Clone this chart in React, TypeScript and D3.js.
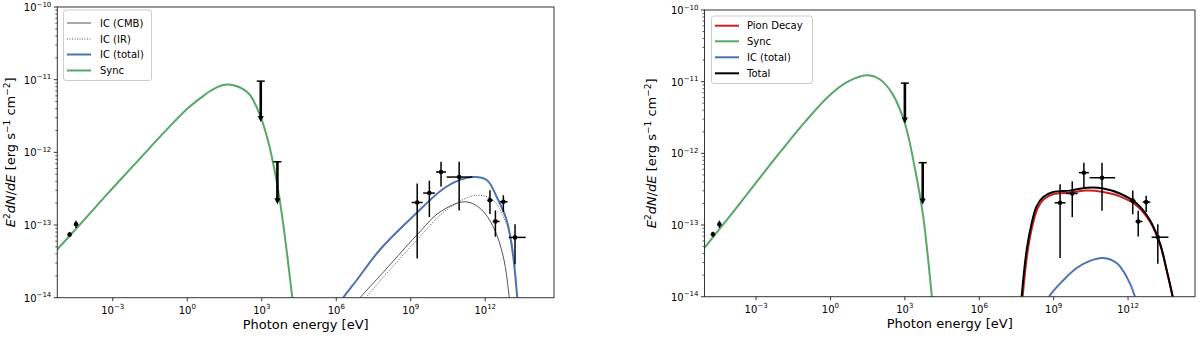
import * as d3 from 'd3';

// all values are log10 exponents: energy in eV, flux in erg s^-1 cm^-2
const xTickExps = [-3, 0, 3, 6, 9, 12];
const yTickExps = [-14, -13, -12, -11, -10];

// radio points
const radioLogE = [-4.74, -4.48];
const radioLogF = [-13.13, -12.99];
const radioErr = [0.035, 0.05];

// X-ray upper limits
const ulLogELeft = [2.96, 3.63];
const ulLogERight = [3.0, 3.72];
const ulTopLogF = [-11.02, -12.13];
const ulTipLogF = [-11.57, -12.7];

// gamma-ray points
const gammaLogE = [9.26, 9.75, 10.22, 10.95, 12.19, 12.41, 12.73, 13.2];
const gammaLogF = [-12.69, -12.56, -12.27, -12.34, -12.66, -12.95, -12.68, -13.17];
const gammaLoF = [-13.46, -12.89, -12.47, -12.8, -12.85, -13.16, -12.82, -13.54];
const gammaHiF = [-12.43, -12.39, -12.13, -12.13, -12.52, -12.8, -12.59, -12.99];
const gammaLoE = [9.04, 9.5, 10.02, 10.45, 12.08, 12.3, 12.59, 12.95];
const gammaHiE = [9.48, 9.97, 10.42, 11.48, 12.3, 12.58, 12.9, 13.63];

// leptonic model (left)
const syncLeftE = [-5.3, -4, -3, -2, -1, 0, 0.7, 1, 1.5, 2, 2.5, 2.93, 3.26, 3.6, 3.87, 4.23, 4.3];
const syncLeftF = [-13.36, -12.87, -12.49, -12.12, -11.75, -11.4, -11.21, -11.14, -11.07, -11.09, -11.2, -11.49, -11.85, -12.4, -13.0, -14.0, -14.2];
const icTotalE = [6.2, 6.28, 6.82, 7.76, 9.1, 10.45, 11.45, 12.06, 12.46, 12.86, 13.13, 13.29, 13.33];
const icTotalF = [-14.05, -14.0, -13.76, -13.34, -12.88, -12.47, -12.34, -12.38, -12.61, -12.93, -13.44, -13.99, -14.1];
const icCmbE = [6.9, 6.96, 7.76, 9.24, 10.18, 11.18, 11.79, 12.32, 12.73, 12.97, 13.0];
const icCmbF = [-14.03, -14.0, -13.7, -13.14, -12.82, -12.68, -12.77, -13.02, -13.44, -14.0, -14.1];
const icIrE = [7.15, 7.2, 8.2, 9.24, 10.45, 11.65, 12.32, 12.73, 13.06, 13.29, 13.32];
const icIrF = [-14.03, -14.0, -13.6, -13.21, -12.79, -12.59, -12.66, -12.89, -13.21, -14.0, -14.1];

// hadronic model (right)
const syncRightE = [-5.2, -4, -3, -2, -1, 0, 0.7, 1.45, 2, 2.5, 3.0, 3.4, 3.74, 4.09, 4.15];
const syncRightF = [-13.37, -12.85, -12.41, -11.97, -11.55, -11.18, -11.0, -10.91, -10.97, -11.17, -11.58, -12.2, -12.88, -14.0, -14.2];
const totalE = [7.65, 7.71, 7.91, 8.11, 8.31, 8.58, 8.98, 9.66, 10.33, 11.0, 11.67, 12.35, 12.88, 13.29, 13.56, 13.8, 13.85];
const totalF = [-14.3, -14.0, -13.35, -12.98, -12.74, -12.61, -12.54, -12.52, -12.48, -12.49, -12.56, -12.7, -12.93, -13.26, -13.63, -14.0, -14.1];
const pionE = [7.69, 7.75, 7.95, 8.15, 8.35, 8.6, 8.98, 9.66, 10.33, 11.0, 11.67, 12.35, 12.88, 13.29, 13.56, 13.8, 13.85];
const pionF = [-14.3, -14.0, -13.37, -13.0, -12.77, -12.64, -12.57, -12.55, -12.52, -12.54, -12.6, -12.73, -12.95, -13.27, -13.64, -14.0, -14.1];
const icRightE = [8.75, 8.82, 9.39, 9.93, 10.46, 11.0, 11.54, 11.94, 12.28, 12.33];
const icRightF = [-14.1, -14.0, -13.77, -13.6, -13.5, -13.46, -13.53, -13.72, -14.0, -14.1];

const GREEN = '#55a868';
const BLUE = '#4c72b0';
const RED = '#c8201e';
const FONT = 'DejaVu Sans, sans-serif';

const sup = (n: number) => (n < 0 ? '\u2212' + -n : String(n));

type Series = { e: number[]; f: number[]; color: string; width: number; dash?: string; label?: string };

type PanelProps = {
  id: string;
  xRange: [number, number];
  xDomain: [number, number];
  yRange: [number, number];
  ylabelX: number;
  series: Series[];
  legend: Series[];
  legendBox: { x: number; y: number; w: number; h: number; lineX: number; textX: number; rows: number[] };
  ulLogE: number[];
};

const Panel = ({ id, xRange, xDomain, yRange, ylabelX, series, legend, legendBox, ulLogE }: PanelProps) => {
  const x = d3.scaleLog().domain([10 ** xDomain[0], 10 ** xDomain[1]]).range(xRange);
  const y = d3.scaleLog().domain([1e-14, 1e-10]).range(yRange);
  const px = (v: number) => x(10 ** v);
  const py = (v: number) => y(10 ** v);
  const line = d3.line<[number, number]>()
    .x(d => px(d[0]))
    .y(d => py(d[1]))
    .curve(d3.curveCatmullRom.alpha(0.5));

  const [x0, x1] = xRange;
  const [yb, yt] = yRange;
  const minor: number[] = [];
  for (let ex = -14; ex < -10; ex++) for (let k = 2; k <= 9; k++) minor.push(Math.log10(k) + ex);

  return (
    <g>
      <defs>
        <clipPath id={id}>
          <rect x={x0} y={yt} width={x1 - x0} height={yb - yt} />
        </clipPath>
      </defs>
      <rect x={x0} y={yt} width={x1 - x0} height={yb - yt} fill="#fff" />

      <g clipPath={`url(#${id})`}>
        {series.map((s, i) => (
          <path key={i} d={line(s.e.map((e, j) => [e, s.f[j]]) as [number, number][]) || ''}
            fill="none" stroke={s.color} strokeWidth={s.width} strokeDasharray={s.dash} />
        ))}
      </g>

      {/* radio points */}
      {radioLogE.map((e, i) => (
        <g key={'r' + i}>
          <line x1={px(e)} x2={px(e)} y1={py(radioLogF[i] - radioErr[i])} y2={py(radioLogF[i] + radioErr[i])} stroke="#000" strokeWidth={1.5} />
          <circle cx={px(e)} cy={py(radioLogF[i])} r={2.3} fill="#000" />
        </g>
      ))}

      {/* upper limits */}
      {ulLogE.map((e, i) => {
        const cx = px(e);
        const top = py(ulTopLogF[i]);
        const tip = py(ulTipLogF[i]);
        return (
          <g key={'u' + i}>
            <line x1={cx} x2={cx} y1={top} y2={tip - 3} stroke="#000" strokeWidth={2.6} />
            <line x1={cx - 4} x2={cx + 4} y1={top} y2={top} stroke="#000" strokeWidth={1.5} />
            <path d={`M${cx - 3},${tip - 5}L${cx + 3},${tip - 5}L${cx},${tip + 1}Z`} fill="#000" />
          </g>
        );
      })}

      {/* gamma-ray points */}
      {gammaLogE.map((e, i) => (
        <g key={'g' + i} stroke="#000" strokeWidth={1.5}>
          <line x1={px(e)} x2={px(e)} y1={py(gammaLoF[i])} y2={py(gammaHiF[i])} />
          <line x1={px(gammaLoE[i])} x2={px(gammaHiE[i])} y1={py(gammaLogF[i])} y2={py(gammaLogF[i])} />
          <circle cx={px(e)} cy={py(gammaLogF[i])} r={2.3} fill="#000" stroke="none" />
        </g>
      ))}

      {/* axes */}
      <rect x={x0} y={yt} width={x1 - x0} height={yb - yt} fill="none" stroke="#333" strokeWidth={1} />
      {yTickExps.map(t => (
        <g key={'yt' + t}>
          <line x1={x0 - 3.5} x2={x0} y1={py(t)} y2={py(t)} stroke="#333" />
          <text x={x0 - 6} y={py(t) + 4} textAnchor="end" fontSize={10} fontFamily={FONT} fill="#000">
            10<tspan dy={-4.5} fontSize={7}>{sup(t)}</tspan>
          </text>
        </g>
      ))}
      {minor.map((m, i) => (
        <line key={'ym' + i} x1={x0 - 2} x2={x0} y1={py(m)} y2={py(m)} stroke="#333" strokeWidth={0.8} />
      ))}
      {xTickExps.map(t => (
        <g key={'xt' + t}>
          <line x1={px(t)} x2={px(t)} y1={yb} y2={yb + 3.5} stroke="#333" />
          <text x={px(t)} y={yb + 16} textAnchor="middle" fontSize={10} fontFamily={FONT} fill="#000">
            10<tspan dy={-4.5} fontSize={7}>{sup(t)}</tspan>
          </text>
        </g>
      ))}
      <text x={(x0 + x1) / 2} y={yb + 31} textAnchor="middle" fontSize={13} fontFamily={FONT} fill="#000">
        Photon energy [eV]
      </text>
      <text transform={`translate(${ylabelX},${(yb + yt) / 2}) rotate(-90)`} textAnchor="middle" fontSize={13} fontFamily={FONT} fill="#000">
        <tspan fontStyle="italic">E</tspan>
        <tspan dy={-5} fontSize={9}>2</tspan>
        <tspan dy={5} fontStyle="italic">dN</tspan>
        <tspan>/</tspan>
        <tspan fontStyle="italic">dE</tspan>
        <tspan> [erg s</tspan>
        <tspan dy={-5} fontSize={9}>{'\u22121'}</tspan>
        <tspan dy={5}> cm</tspan>
        <tspan dy={-5} fontSize={9}>{'\u22122'}</tspan>
        <tspan dy={5}>]</tspan>
      </text>

      {/* legend */}
      <rect x={legendBox.x} y={legendBox.y} width={legendBox.w} height={legendBox.h} rx={2.5}
        fill="#fff" fillOpacity={0.8} stroke="#ccc" strokeWidth={1} />
      {legend.map((s, i) => (
        <g key={'l' + i}>
          <line x1={legendBox.lineX} x2={legendBox.lineX + 24} y1={legendBox.rows[i]} y2={legendBox.rows[i]}
            stroke={s.color} strokeWidth={s.width} strokeDasharray={s.dash} />
          <text x={legendBox.textX} y={legendBox.rows[i] + 3.6} fontSize={10} fontFamily={FONT} fill="#000">{s.label}</text>
        </g>
      ))}
    </g>
  );
};

export default function App() {
  const cmb: Series = { e: icCmbE, f: icCmbF, color: '#555', width: 1, label: 'IC (CMB)' };
  const ir: Series = { e: icIrE, f: icIrF, color: '#555', width: 1, dash: '1,1.5', label: 'IC (IR)' };
  const icTot: Series = { e: icTotalE, f: icTotalF, color: BLUE, width: 2, label: 'IC (total)' };
  const syncL: Series = { e: syncLeftE, f: syncLeftF, color: GREEN, width: 2, label: 'Sync' };

  const pion: Series = { e: pionE, f: pionF, color: RED, width: 2, label: 'Pion Decay' };
  const syncR: Series = { e: syncRightE, f: syncRightF, color: GREEN, width: 2, label: 'Sync' };
  const icR: Series = { e: icRightE, f: icRightF, color: BLUE, width: 2, label: 'IC (total)' };
  const total: Series = { e: totalE, f: totalF, color: '#000', width: 2, label: 'Total' };

  return (
    <svg width={1200} height={338} style={{ position: 'absolute', left: 0, top: 0, background: '#fff' }}>
      <rect width={1200} height={338} fill="#fff" />
      <Panel
        id="clipL"
        xRange={[57.3, 554]}
        xDomain={[-5.235, 14.77]}
        yRange={[297.7, 7]}
        ylabelX={15}
        series={[cmb, ir, icTot, syncL]}
        legend={[cmb, ir, icTot, syncL]}
        legendBox={{ x: 63.5, y: 10, w: 88, h: 70.5, lineX: 67, textX: 100, rows: [23, 39, 54.5, 70.5] }}
        ulLogE={ulLogELeft}
      />
      <Panel
        id="clipR"
        xRange={[704.5, 1195]}
        xDomain={[-5.08, 14.7]}
        yRange={[296.7, 10]}
        ylabelX={656}
        series={[pion, syncR, icR, total]}
        legend={[pion, syncR, icR, total]}
        legendBox={{ x: 711.5, y: 16, w: 101, h: 67.5, lineX: 715, textX: 747, rows: [25.7, 41.3, 57.3, 73.3] }}
        ulLogE={ulLogERight}
      />
    </svg>
  );
}
